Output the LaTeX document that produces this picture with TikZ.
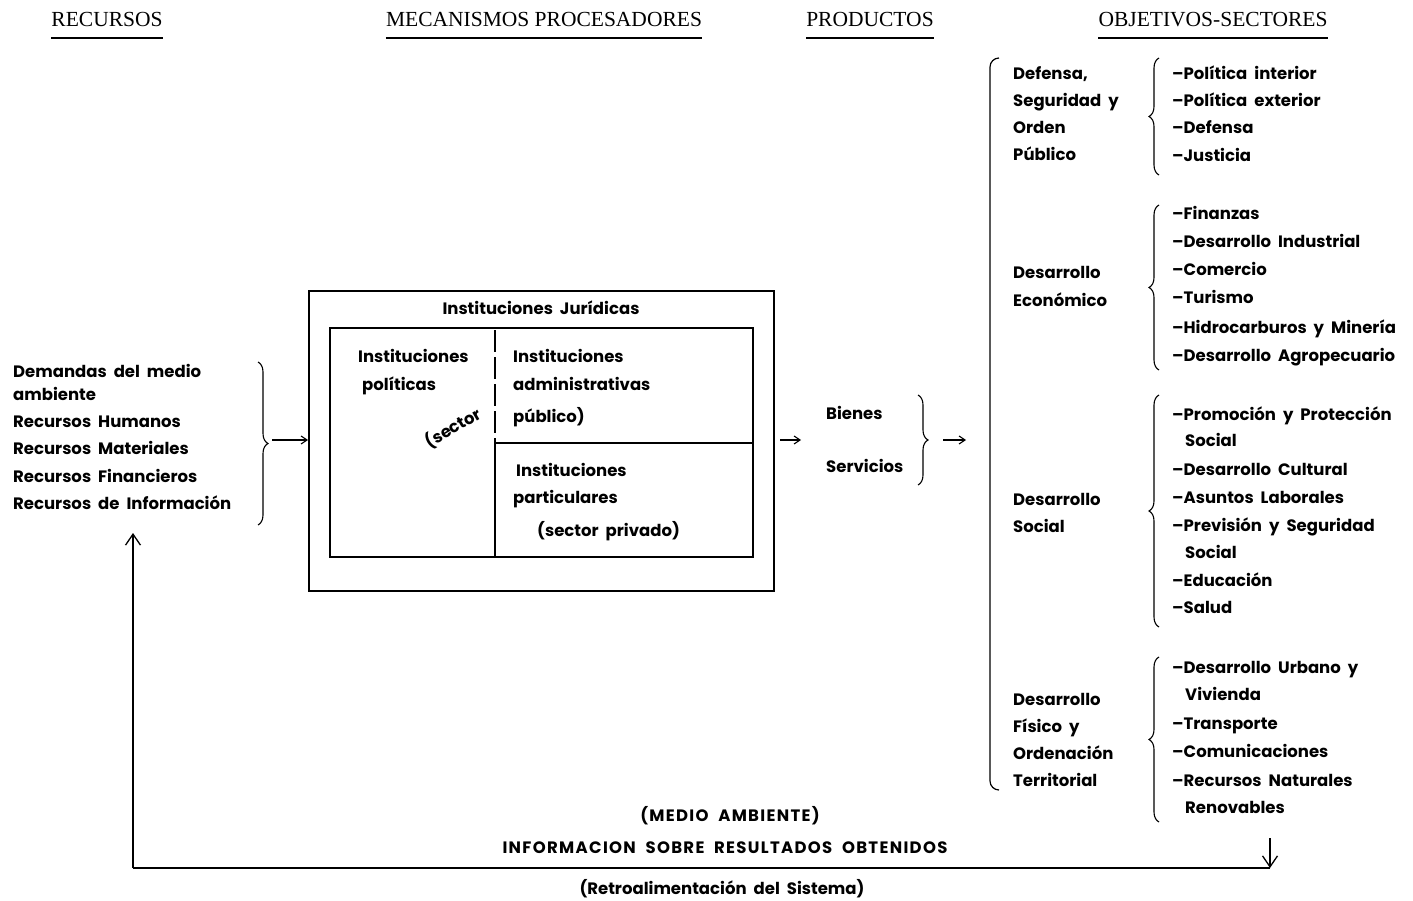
\documentclass[tikz,border=0pt]{standalone}
\usepackage{fontspec}
\setmainfont{Liberation Serif}
\setsansfont{Poppins}[WordSpace=2]
\newfontfamily\capsfont{Poppins}[LetterSpace=8, WordSpace=2]
\usetikzlibrary{decorations.pathreplacing,arrows.meta}
\begin{document}
\begin{tikzpicture}[x=1pt,y=-1pt,
  txt/.style={font=\sffamily\bfseries\fontsize{16.5}{16.5}\selectfont, anchor=base west, inner sep=0pt},
  ctxt/.style={txt, anchor=base},
  capstxt/.style={font=\capsfont\bfseries\fontsize{16.5}{16.5}\selectfont, anchor=base, inner sep=0pt},
  head/.style={font=\rmfamily\fontsize{21.5}{21.5}\selectfont, anchor=base, inner sep=0pt},
  uline/.style={line width=1.6pt},
  frame/.style={line width=1.6pt},
  brc/.style={decorate, decoration={brace, amplitude=10pt}, line width=1.1pt},
  arr/.style={line width=1.1pt, -{Straight Barb[length=6pt,width=8pt]}},
  bigarr/.style={line width=1.3pt, -{Straight Barb[length=11pt,width=15pt]}}]
\useasboundingbox (0,0) rectangle (1413,901);

% column headings
\node[head] (hRec) at (107,27) {RECURSOS};
\node[head] (hMec) at (544,27) {MECANISMOS PROCESADORES};
\node[head] (hPro) at (870,27) {PRODUCTOS};
\node[head] (hObj) at (1213,27) {OBJETIVOS-SECTORES};
\foreach \h in {hRec,hMec,hPro,hObj}
  \draw[uline] ([yshift=-11pt]\h.base west) -- ([yshift=-11pt]\h.base east);

% resources
\node[txt] (r1) at (13,377) {Demandas del medio};
\node[txt] (r2) at (13,400) {ambiente};
\node[txt] (r3) at (13,427) {Recursos Humanos};
\node[txt] (r4) at (13,454) {Recursos Materiales};
\node[txt] (r5) at (13,482) {Recursos Financieros};
\node[txt] (r6) at (13,509) {Recursos de Información};
\coordinate (rbTop) at (258,362);
\coordinate (rbBot) at (258,525);
\draw[brc] (rbTop) -- (rbBot);
\coordinate (rbTip) at (272,440);

% processing mechanisms
\node[draw, frame, minimum width=465pt, minimum height=300pt, anchor=north west, inner sep=0pt] (outer) at (308,290) {};
\node[draw, frame, minimum width=423pt, minimum height=229pt, anchor=north west, inner sep=0pt] (inner) at (329,327) {};
\node[ctxt] (ij) at (541,314) {Instituciones Jurídicas};
\coordinate (vTop) at (495,330);
\coordinate (vMid) at (495,443);
\coordinate (vBot) at (495,556);
\coordinate (hEnd) at (752,443);
\draw[line width=1.4pt, dash pattern=on 22pt off 5pt] (vTop) -- (vMid);
\draw[line width=1.4pt] (vMid) -- (vBot);
\draw[line width=1.4pt] (vMid) -- (hEnd);
\node[txt] (ip1) at (358,362) {Instituciones};
\node[txt] (ip2) at (362,390) {políticas};
\node[ctxt, rotate=30] (sec) at (456,433) {(sector};
\node[txt] (ia1) at (513,362) {Instituciones};
\node[txt] (ia2) at (513,390) {administrativas};
\node[txt] (ia3) at (513,422) {público)};
\node[txt] (pa1) at (516,476) {Instituciones};
\node[txt] (pa2) at (513,503) {particulares};
\node[txt] (pa3) at (537,536) {(sector privado)};
\draw[arr] (rbTip) -- (outer.west |- rbTip);

% products
\coordinate (mOut) at (780,440);
\node[txt] (bn) at (826,419) {Bienes};
\node[txt] (sv) at (826,472) {Servicios};
\coordinate (pbTop) at (918,395);
\coordinate (pbBot) at (918,485);
\draw[brc] (pbTop) -- (pbBot);
\draw[arr] (mOut) -- ++(21,0) coordinate (mIn);
\coordinate (pTip) at (943,440);
\coordinate (oIn) at (966,440);
\draw[arr] (pTip) -- (oIn);

% objectives and sectors
\coordinate (obTop) at (999,58);
\coordinate (obBot) at (999,790);
\draw[line width=1.2pt] (obTop) to[out=180,in=90] (990,67) -- (990,781) to[out=-90,in=180] (obBot);

\node[txt] (g1a) at (1013,80) {Defensa,};
\node[txt] (g1b) at (1013,107) {Seguridad y};
\node[txt] (g1c) at (1013,134) {Orden};
\node[txt] (g1d) at (1013,161) {Público};
\node[txt] (g2a) at (1013,279) {Desarrollo};
\node[txt] (g2b) at (1013,306) {Económico};
\node[txt] (g3a) at (1013,505) {Desarrollo};
\node[txt] (g3b) at (1013,532) {Social};
\node[txt] (g4a) at (1013,705) {Desarrollo};
\node[txt] (g4b) at (1013,732) {Físico y};
\node[txt] (g4c) at (1013,759) {Ordenación};
\node[txt] (g4d) at (1013,786) {Territorial};

\draw[brc] (1159,175) -- (1159,58);
\draw[brc] (1159,370) -- (1159,205);
\draw[brc] (1159,627) -- (1159,395);
\draw[brc] (1159,822) -- (1159,657);

\node[txt] (s11) at (1172,80) {–Política interior};
\node[txt] (s12) at (1172,107) {–Política exterior};
\node[txt] (s13) at (1172,134) {–Defensa};
\node[txt] (s14) at (1172,162) {–Justicia};

\node[txt] (s21) at (1172,220) {–Finanzas};
\node[txt] (s22) at (1172,248) {–Desarrollo Industrial};
\node[txt] (s23) at (1172,276) {–Comercio};
\node[txt] (s24) at (1172,304) {–Turismo};
\node[txt] (s25) at (1172,333) {–Hidrocarburos y Minería};
\node[txt] (s26) at (1172,361) {–Desarrollo Agropecuario};

\node[txt] (s31) at (1172,420) {–Promoción y Protección};
\node[txt] (s31b) at (1185,446) {Social};
\node[txt] (s32) at (1172,475) {–Desarrollo Cultural};
\node[txt] (s33) at (1172,503) {–Asuntos Laborales};
\node[txt] (s34) at (1172,531) {–Previsión y Seguridad};
\node[txt] (s34b) at (1185,558) {Social};
\node[txt] (s35) at (1172,586) {–Educación};
\node[txt] (s36) at (1172,613) {–Salud};

\node[txt] (s41) at (1172,673) {–Desarrollo Urbano y};
\node[txt] (s41b) at (1185,700) {Vivienda};
\node[txt] (s42) at (1172,729) {–Transporte};
\node[txt] (s43) at (1172,757) {–Comunicaciones};
\node[txt] (s44) at (1172,786) {–Recursos Naturales};
\node[txt] (s44b) at (1185,813) {Renovables};

% feedback loop
\node[capstxt] (ma) at (730,821) {(MEDIO AMBIENTE)};
\node[capstxt] (inf) at (725,853) {INFORMACION SOBRE RESULTADOS OBTENIDOS};
\node[ctxt] (ret) at (722,894) {(Retroalimentación del Sistema)};
\coordinate (fbTop) at (1270,838);
\coordinate (fbR) at (1270,868);
\coordinate (fbL) at (133,868);
\coordinate (fbUp) at (133,533);
\draw[bigarr] (fbTop) -- (fbR);
\draw[line width=1.6pt] (fbR) -- (fbL);
\draw[bigarr] (fbL) -- (fbUp);
\end{tikzpicture}
\end{document}
